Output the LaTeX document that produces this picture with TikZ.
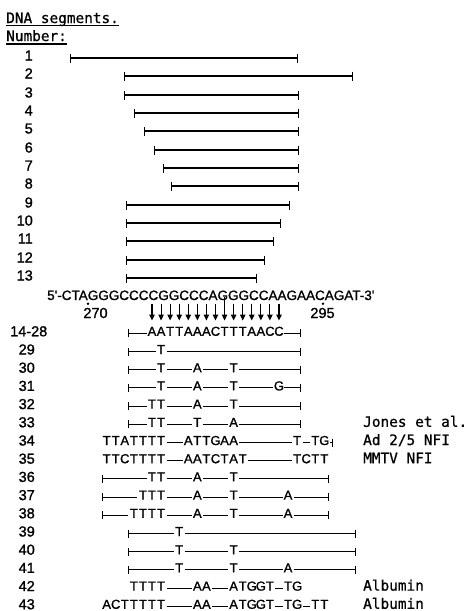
\documentclass[tikz,border=0pt]{standalone}
\usepackage{fontspec}
\newfontfamily\lsf{Liberation Sans}[UprightFeatures={FakeBold=1.2}]
\newfontfamily\dmono{DejaVu Sans Mono}[UprightFeatures={FakeBold=0.8}]
\usetikzlibrary{arrows.meta}
\newcommand\gx[1]{(152+9.07*(#1))}
% letter group: #1 id, #2 baseline, #3 start column, #4 letters
\newcommand\rowG[4]{\foreach \c [count=\i from 0] in {#4} {\node[let] (#1k#3n\i) at ({\gx{#3+\i}},#2) {\c};}}
% line between letter columns
\newcommand\rowS[3]{\draw[ln] ({\gx{#2}+5.5},#1-2.5) -- ({\gx{#3}-5.5},#1-2.5);}
% left tick at x=#2 to letter column #3
\newcommand\rowL[3]{\draw[ln,{Bar[width=8pt]}-] (#2,#1-2.5) -- ({\gx{#3}-5.5},#1-2.5);}
% from letter column #2 to right tick at x=#3
\newcommand\rowR[3]{\draw[ln,-{Bar[width=8pt]}] ({\gx{#2}+5.5},#1-2.5) -- (#3,#1-2.5);}
\tikzset{
  let/.style={anchor=base, inner sep=0pt, font=\lsf\fontsize{13}{15}\selectfont},
  num/.style={anchor=base east, inner sep=0pt, font=\lsf\fontsize{14.5}{16}\selectfont},
  mono/.style={anchor=base west, inner sep=0pt, font=\dmono\fontsize{14.4}{17}\selectfont},
  ln/.style={line width=1.1pt},
  useg/.style={line width=1.6pt,{Bar[width=9pt,line width=1.3pt]}-{Bar[width=9pt,line width=1.3pt]}},
  arr/.style={line width=1.1pt,-{Triangle[length=6pt,width=5.5pt]}},
}
\begin{document}
\begin{tikzpicture}[x=1pt,y=-1pt]
\useasboundingbox (0,0) rectangle (471,611);
% headings
\node[mono] (title) at (6,23) {DNA segments.};
\draw[line width=1.3pt] ([yshift=-2.5pt]title.base west) -- ([yshift=-2.5pt]title.base east);
\node[mono] (numhead) at (6,41) {Number:};
\draw[line width=1.3pt] ([yshift=-3pt]numhead.base west) -- ([yshift=-3pt]numhead.base east);
% segments 1-13
\foreach \n/\a/\b/\yy in {1/70/298/58, 2/124/353/76, 3/124/299/95, 4/134/299/113, 5/144/299/131, 6/154/299/150, 7/163/299/168, 8/171/299/186, 9/126/290/205, 10/126/281/223, 11/126/274/241, 12/126/265/260, 13/126/257/278} {
  \node[num] (u\n) at (33,\yy+2.5) {\n};
  \draw[useg] (\a,\yy) -- (\b,\yy);
}
% sequence
\node[anchor=base west, inner sep=0pt, font=\lsf\fontsize{13.5}{15}\selectfont] (seq) at (47,300) {5\textquotesingle-CTAGGGCCCCGGCCCAGGGCCAAGAACAGAT-3\textquotesingle};
\fill (88,303.8) circle (1.4pt);
\fill (323,303.8) circle (1.4pt);
\node[anchor=base, inner sep=0pt, font=\lsf\fontsize{14.5}{16}\selectfont] (p270) at (95.5,318) {270};
\node[anchor=base, inner sep=0pt, font=\lsf\fontsize{14.5}{16}\selectfont] (p295) at (322.5,318) {295};
\foreach \k in {0,1,2,3,4,5,6,7,9,10,11,12,13,14} {
  \draw[arr] ({\gx{\k}},303.5) -- ({\gx{\k}},320.5);
}
\draw[arr] ({\gx{8}},297) -- ({\gx{8}},320.5);
% row labels (lower)
\node[num, anchor=base west] (n14) at (10,336.3) {14-28};
\foreach \lab [count=\j] in {29,30,31,32,33,34,35,36,37,38,39,40,41,42,43} {
  \node[num] (n\lab) at (35,{336.3+18.2*\j}) {\lab};
}
% 14-28
\rowL{335.8}{127.5}{0}\rowG{a}{335.8}{0}{A,A,T,T,A,A,A,C,T,T,T,A,A,C,C}\rowR{335.8}{14}{301}
% 29
\rowL{354}{127.5}{1}\rowG{b}{354}{1}{T}\rowR{354}{1}{301}
% 30
\rowL{372.2}{127.5}{1}\rowG{c}{372.2}{1}{T}\rowS{372.2}{1}{5}\rowG{c}{372.2}{5}{A}\rowS{372.2}{5}{9}\rowG{c}{372.2}{9}{T}\rowR{372.2}{9}{301}
% 31
\rowL{390.4}{127.5}{1}\rowG{d}{390.4}{1}{T}\rowS{390.4}{1}{5}\rowG{d}{390.4}{5}{A}\rowS{390.4}{5}{9}\rowG{d}{390.4}{9}{T}\rowS{390.4}{9}{14}\rowG{d}{390.4}{14}{G}\rowR{390.4}{14}{301}
% 32
\rowL{408.6}{127.5}{0}\rowG{e}{408.6}{0}{T,T}\rowS{408.6}{1}{5}\rowG{e}{408.6}{5}{A}\rowS{408.6}{5}{9}\rowG{e}{408.6}{9}{T}\rowR{408.6}{9}{301}
% 33
\rowL{426.8}{127.5}{0}\rowG{f}{426.8}{0}{T,T}\rowS{426.8}{1}{5}\rowG{f}{426.8}{5}{T}\rowS{426.8}{5}{9}\rowG{f}{426.8}{9}{A}\rowR{426.8}{9}{301}
% 34
\rowG{g}{445}{-5}{T,T,A,T,T,T,T}\rowS{445}{1}{4}\rowG{g}{445}{4}{A,T,T,G,A,A}\rowS{445}{9}{16}\rowG{g}{445}{16}{T}\rowS{445}{16}{18}\rowG{g}{445}{18}{T,G}\rowR{445}{19}{333}
% 35
\rowG{h}{463.2}{-5}{T,T,C,T,T,T,T}\rowS{463.2}{1}{4}\rowG{h}{463.2}{4}{A,A,T,C,T,A,T}\rowS{463.2}{10}{16}\rowG{h}{463.2}{16}{T,C,T,T}
% 36
\rowL{481.4}{102}{0}\rowG{i}{481.4}{0}{T,T}\rowS{481.4}{1}{5}\rowG{i}{481.4}{5}{A}\rowS{481.4}{5}{9}\rowG{i}{481.4}{9}{T}\rowR{481.4}{9}{329}
% 37
\rowL{499.6}{102}{-1}\rowG{j}{499.6}{-1}{T,T,T}\rowS{499.6}{1}{5}\rowG{j}{499.6}{5}{A}\rowS{499.6}{5}{9}\rowG{j}{499.6}{9}{T}\rowS{499.6}{9}{15}\rowG{j}{499.6}{15}{A}\rowR{499.6}{15}{329}
% 38
\rowL{517.8}{102}{-2}\rowG{k}{517.8}{-2}{T,T,T,T}\rowS{517.8}{1}{5}\rowG{k}{517.8}{5}{A}\rowS{517.8}{5}{9}\rowG{k}{517.8}{9}{T}\rowS{517.8}{9}{15}\rowG{k}{517.8}{15}{A}\rowR{517.8}{15}{329}
% 39
\rowL{536}{128}{3}\rowG{l}{536}{3}{T}\rowR{536}{3}{356}
% 40
\rowL{554.2}{128}{3}\rowG{m}{554.2}{3}{T}\rowS{554.2}{3}{9}\rowG{m}{554.2}{9}{T}\rowR{554.2}{9}{356}
% 41
\rowL{572.4}{128}{3}\rowG{o}{572.4}{3}{T}\rowS{572.4}{3}{9}\rowG{o}{572.4}{9}{T}\rowS{572.4}{9}{15}\rowG{o}{572.4}{15}{A}\rowR{572.4}{15}{356}
% 42
\rowG{p}{590.6}{-2}{T,T,T,T}\rowS{590.6}{1}{5}\rowG{p}{590.6}{5}{A,A}\rowS{590.6}{6}{9}\rowG{p}{590.6}{9}{A,T,G,G,T}\rowS{590.6}{13}{15}\rowG{p}{590.6}{15}{T,G}
% 43
\rowG{q}{608.8}{-5}{A,C,T,T,T,T,T}\rowS{608.8}{1}{5}\rowG{q}{608.8}{5}{A,A}\rowS{608.8}{6}{9}\rowG{q}{608.8}{9}{A,T,G,G,T}\rowS{608.8}{13}{15}\rowG{q}{608.8}{15}{T,G}\rowS{608.8}{16}{18}\rowG{q}{608.8}{18}{T,T}
% right-hand labels
\node[mono] (jones) at (363,426.8) {Jones et al.};
\node[mono] (ad) at (363,445) {Ad 2/5 NFI};
\node[mono] (mmtv) at (363,463.2) {MMTV NFI};
\node[mono] (alb1) at (363,590.6) {Albumin};
\node[mono] (alb2) at (363,608.8) {Albumin};
\end{tikzpicture}
\end{document}
